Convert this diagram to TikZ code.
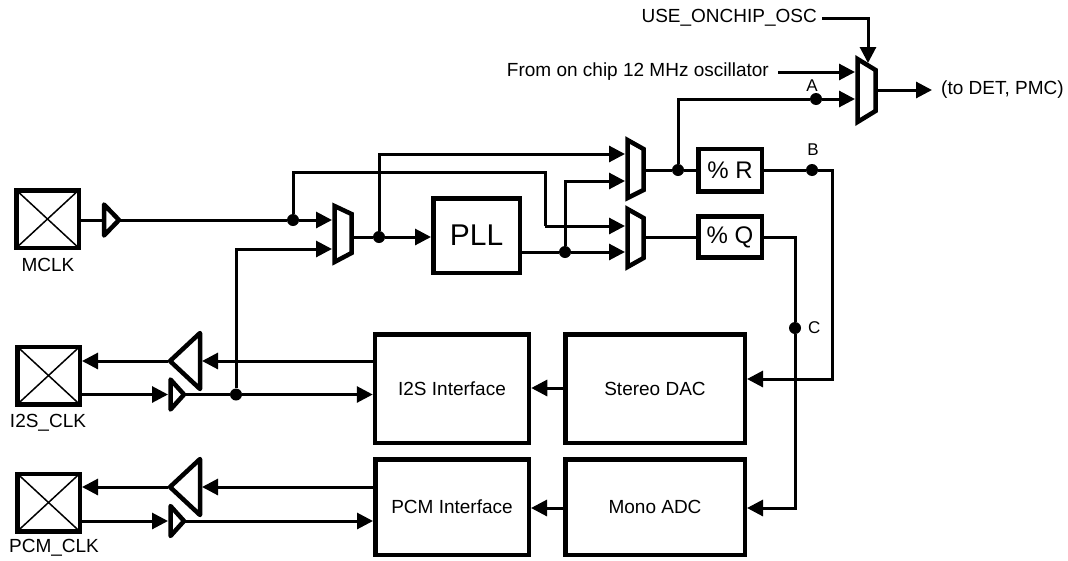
\documentclass[tikz,border=0pt]{standalone}
\usepackage{fontspec}
\setmainfont{Liberation Sans}
\usetikzlibrary{arrows.meta,calc}
\begin{document}
\begin{tikzpicture}[x=1pt,y=-1pt,
  wire/.style={line width=3pt},
  arr/.style={wire,-{Triangle[length=16pt,width=16pt]}},
  muxs/.style={line width=4.5pt,line join=miter},
  bufs/.style={line width=4.5pt,line join=round},
  blk/.style={draw,line width=4.5pt,inner sep=0pt},
  pad/.style={draw,line width=4.5pt,minimum width=62.5pt,minimum height=57.5pt,inner sep=0pt},
  dot/.style={circle,fill,inner sep=0pt,minimum size=12pt},
  lbl/.style={font=\fontsize{19}{21}\selectfont,inner sep=0pt},
  slbl/.style={font=\fontsize{17}{19}\selectfont,inner sep=0pt}]
\useasboundingbox (0,0) rectangle (1068,560);

% pads
\node[pad] (mclk) at (47.5,219) {};
\node[pad] (i2spad) at (48.5,375.5) {};
\node[pad] (pcmpad) at (48.5,502.5) {};
\foreach \p in {mclk,i2spad,pcmpad}{
  \draw[line width=1.5pt,shorten <=2.5pt,shorten >=2.5pt] (\p.north west) -- (\p.south east);
  \draw[line width=1.5pt,shorten <=2.5pt,shorten >=2.5pt] (\p.north east) -- (\p.south west);
}
\node[lbl] (tmclk) at (48,265) {MCLK};
\node[lbl] (ti2s) at (48,423) {I2S\_CLK};
\node[lbl] (tpcm) at (54,548) {PCM\_CLK};

% blocks
\node[blk,minimum width=86.5pt,minimum height=74.5pt,font=\fontsize{30}{32}\selectfont] (pll) at (476.5,235.5) {PLL};
\node[blk,minimum width=63.5pt,minimum height=42.5pt,font=\fontsize{24}{26}\selectfont] (r) at (730,170) {\% R};
\node[blk,minimum width=63.5pt,minimum height=41pt,font=\fontsize{24}{26}\selectfont] (q) at (730,237) {\% Q};
\node[blk,minimum width=154pt,minimum height=108.5pt,lbl] (i2s) at (452,388.5) {I2S Interface};
\node[blk,minimum width=179.5pt,minimum height=108.5pt,lbl] (dac) at (655,388.5) {Stereo DAC};
\node[blk,minimum width=153.5pt,minimum height=95.5pt,lbl] (pcm) at (452,507) {PCM Interface};
\node[blk,minimum width=179.5pt,minimum height=95.5pt,lbl] (adc) at (655,507) {Mono ADC};

% muxes
\draw[muxs] (334.5,206) -- (351.5,214) -- (351.5,253) -- (334.5,262) -- cycle;
\coordinate (m1a) at (332,220); \coordinate (m1b) at (332,249); \coordinate (m1o) at (351.5,237);
\draw[muxs] (627.5,140) -- (643.5,149) -- (643.5,190) -- (627.5,198) -- cycle;
\coordinate (m2a) at (625,154); \coordinate (m2b) at (625,181); \coordinate (m2o) at (643.5,170);
\draw[muxs] (627.5,209) -- (643.5,218) -- (643.5,258) -- (627.5,267) -- cycle;
\coordinate (m3a) at (625,226); \coordinate (m3b) at (625,252); \coordinate (m3o) at (643.5,237);
\draw[muxs] (857.5,59) -- (875.5,70) -- (875.5,111) -- (857.5,122) -- cycle;
\coordinate (m4a) at (855,72); \coordinate (m4b) at (855,99); \coordinate (m4o) at (875.5,90);
\coordinate (m4s) at (868,63);

% buffers
\draw[bufs] (104,204.5) -- (104,235.5) -- (119,220) -- cycle;
\coordinate (b0i) at (102,220); \coordinate (b0o) at (119,220);
\draw[bufs] (200,333) -- (200,389) -- (170,361) -- cycle;
\coordinate (bt1b) at (202,361); \coordinate (bt1t) at (168,361);
\draw[bufs] (170.5,379.5) -- (170.5,409.5) -- (184,394.5) -- cycle;
\coordinate (bs1i) at (168,394.5); \coordinate (bs1o) at (184,394.5);
\draw[bufs] (200,459) -- (200,515) -- (170,487) -- cycle;
\coordinate (bt2b) at (202,487); \coordinate (bt2t) at (168,487);
\draw[bufs] (170.5,506) -- (170.5,536) -- (184,521) -- cycle;
\coordinate (bs2i) at (168,521); \coordinate (bs2o) at (184,521);

% dots
\node[dot] (dm) at (293,220) {};
\node[dot] (d1) at (379,237) {};
\node[dot] (d2) at (565,252) {};
\node[dot] (d3) at (678,170) {};
\node[dot] (dA) at (816,99) {};
\node[dot] (dB) at (812,170) {};
\node[dot] (dC) at (795,328) {};
\node[dot] (dI) at (236,394.5) {};
\node[slbl] (tA) at (812,86) {A};
\node[slbl] (tB) at (813,150) {B};
\node[slbl,anchor=west] (tC) at (808,328) {C};

% MCLK path
\draw[wire] (mclk.east |- b0i) -- (b0i);
\draw[wire] (b0o) -- (dm);
\draw[arr] (dm) -- (m1a);
\draw[wire] (dm) |- (545,172) coordinate (k1) -- (545,226) coordinate (k2);
\draw[arr] (k2) -- (m3a);
\draw[arr] (dI) |- (m1b);
\draw[wire] (m1o) -- (d1);
\draw[arr] (d1) -- (d1 -| pll.west);
\draw[arr] (d1) |- (m2a);
\draw[wire] (pll.east |- d2) -- (d2);
\draw[arr] (d2) -- (m3b);
\draw[arr] (d2) |- (m2b);
\draw[wire] (m2o) -- (d3);
\draw[wire] (d3) -- (r.west |- d3);
\draw[wire] (d3) |- (dA);
\draw[arr] (dA) -- (m4b);
\draw[wire] (r.east |- dB) -- (dB);
\draw[arr] (dB) -| (832,379) coordinate (k3) -- (dac.east |- k3);
\draw[wire] (m3o) -- (q.west |- m3o);
\draw[wire] (q.east |- m3o) -| (dC);
\draw[arr] (dC) |- (adc.east |- 0,508);
\draw[arr] (dac.west |- 0,388) -- (i2s.east |- 0,388);
\draw[arr] (adc.west |- 0,508) -- (pcm.east |- 0,508);

% I2S buffers
\draw[arr] (i2s.west |- bt1b) -- (bt1b);
\draw[arr] (bt1t) -- (i2spad.east |- bt1t);
\draw[arr] (i2spad.east |- bs1i) -- (bs1i);
\draw[wire] (bs1o) -- (dI);
\draw[arr] (dI) -- (i2s.west |- dI);
% PCM buffers
\draw[arr] (pcm.west |- bt2b) -- (bt2b);
\draw[arr] (bt2t) -- (pcmpad.east |- bt2t);
\draw[arr] (pcmpad.east |- bs2i) -- (bs2i);
\draw[arr] (bs2o) -- (pcm.west |- bs2o);

% top
\node[lbl,anchor=east] (tosc) at (769,72) {From on chip 12 MHz oscillator};
\draw[arr] ([xshift=9pt]tosc.east) -- (m4a);
\node[lbl,anchor=east] (tuse) at (817,18) {USE\_ONCHIP\_OSC};
\draw[arr] ([xshift=5pt]tuse.east) -| (m4s);
\coordinate (outend) at (932,90);
\draw[arr] (m4o) -- (outend);
\node[lbl,anchor=west] (tout) at (941,90) {(to DET, PMC)};
\end{tikzpicture}
\end{document}
